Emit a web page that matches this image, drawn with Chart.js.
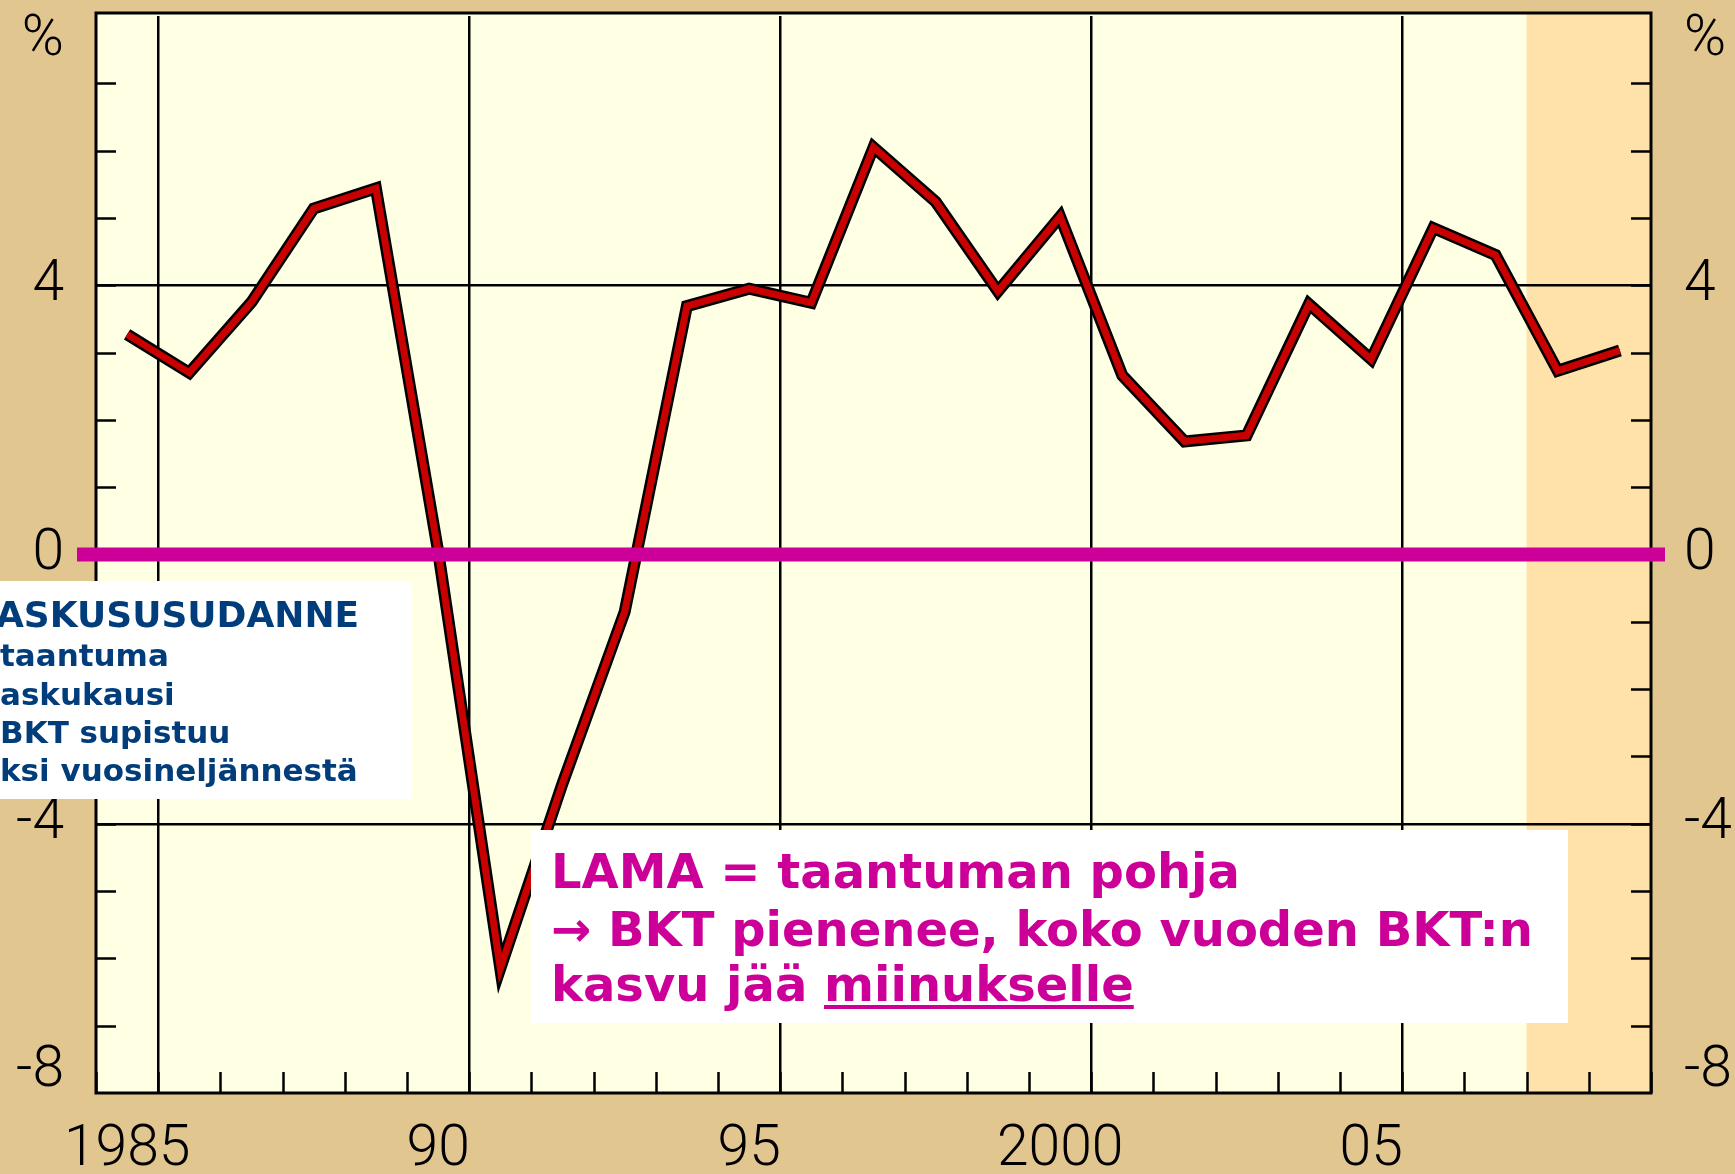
<!DOCTYPE html>
<html>
<head>
<meta charset="utf-8">
<title>BKT:n kasvu</title>
<script src="https://cdn.jsdelivr.net/npm/chart.js@4.4.1/dist/chart.umd.min.js"></script>
<style>
  html, body { margin: 0; padding: 0; background: #e2c690; overflow: hidden; }
  canvas { display: block; }
</style>
</head>
<body>
<canvas id="gdpChart" width="1735" height="1174"></canvas>
<script>
/* ==============================================
   Data - annual GDP growth, % (plotted mid-year)
   ============================================== */
const years = [1984, 1985, 1986, 1987, 1988, 1989, 1990, 1991, 1992, 1993, 1994, 1995,
               1996, 1997, 1998, 1999, 2000, 2001, 2002, 2003, 2004, 2005, 2006, 2007, 2008];
const gdpGrowth = [3.27, 2.70, 3.75, 5.14, 5.44, 0.05, -6.15, -3.40, -0.85, 3.69, 3.95, 3.74,
                   6.05, 5.24, 3.91, 5.02, 2.66, 1.68, 1.77, 3.72, 2.90, 4.85, 4.45, 2.73, 3.03];
const forecastStart = 2007;

const xTickYears = [1985, 1990, 1995, 2000, 2005];
const xTickLabels = ['1985', '90', '95', '2000', '05'];
const yTickValues = [4, 0, -4];
const yTickLabels = ['4', '0', '-4'];
const yEndValues = [8, -8];
const yEndLabels = ['%', '-8'];

const legendLines = ['ASKUSUSUDANNE', 'taantuma', 'askukausi', 'BKT supistuu', 'ksi vuosineljännestä'];
const noteLines = ['LAMA = taantuman pohja', '\u2192 BKT pienenee, koko vuoden BKT:n', 'kasvu jää '];
const noteUnderlined = 'miinukselle';

// colours
const PLOT_BG = '#ffffe4';
const FORECAST_BG = '#ffe2aa';
const LINE_RED = '#c80000';
const MAGENTA = '#cc0099';
const NAVY = '#003d7a';
const TICK_FONT = { family: 'Roboto, "Liberation Sans", sans-serif', size: 57, weight: 300 };
const FRAME_OVERHANG = 3; // frame top sits a little above the 8 % level

const points = years.map((yr, i) => ({ x: yr + 0.5, y: gdpGrowth[i] }));

/**
 * Background, inner tick marks, frame, zero line and text boxes
 */
const framePlugin = {
    id: 'framePlugin',
    beforeDraw(chart) {
        const { ctx, chartArea: a, scales: { x } } = chart;
        const top = a.top - FRAME_OVERHANG;
        ctx.save();
        ctx.fillStyle = PLOT_BG;
        ctx.fillRect(a.left, top, a.width, a.bottom - top);
        const xs = x.getPixelForValue(forecastStart);
        ctx.fillStyle = FORECAST_BG;
        ctx.fillRect(xs, top, a.right - xs, a.bottom - top);
        ctx.restore();
    },
    beforeDatasetsDraw(chart) {
        const { ctx, chartArea: a, scales: { x, y } } = chart;
        const top = a.top - FRAME_OVERHANG;
        ctx.save();
        ctx.strokeStyle = '#000';
        ctx.lineWidth = 2.5;
        ctx.beginPath();
        // short inward ticks on both value axes (not at the frame ends)
        y.ticks.filter(t => t.value > y.min && t.value < y.max).forEach(t => {
            const py = Math.round(y.getPixelForValue(t.value)) + 0.5;
            ctx.moveTo(a.left, py); ctx.lineTo(a.left + 20, py);
            ctx.moveTo(a.right, py); ctx.lineTo(a.right - 20, py);
        });
        // yearly ticks rising from the bottom
        x.ticks.forEach(t => {
            const px = Math.round(x.getPixelForValue(t.value)) + 0.5;
            ctx.moveTo(px, a.bottom); ctx.lineTo(px, a.bottom - 21);
        });
        ctx.stroke();
        ctx.lineWidth = 3;
        ctx.strokeRect(a.left, top, a.width, a.bottom - top);
        ctx.restore();
    },
    afterDatasetsDraw(chart) {
        const { ctx, chartArea: a, scales: { y } } = chart;
        const y0 = y.getPixelForValue(0);
        ctx.save();
        ctx.strokeStyle = MAGENTA;
        ctx.lineWidth = 14;
        ctx.beginPath();
        ctx.moveTo(a.left - 19, y0);
        ctx.lineTo(a.right + 14, y0);
        ctx.stroke();
        ctx.restore();
    },
    afterDraw(chart) {
        const { ctx, chartArea: a, scales: { y } } = chart;
        ctx.save();

        // '%' and '-8' sit a little inside the axis ends
        ctx.fillStyle = '#000';
        ctx.font = `${TICK_FONT.weight} ${TICK_FONT.size}px ${TICK_FONT.family}`;
        ctx.textBaseline = 'middle';
        yEndValues.forEach((v, i) => {
            const py = y.getPixelForValue(v) + (v > 0 ? 25 : -21);
            ctx.textAlign = 'right';
            ctx.fillText(yEndLabels[i], a.left - 32, py);
            ctx.textAlign = 'left';
            ctx.fillText(yEndLabels[i], a.right + 33, py);
        });

        // Left definition box (cut by the slide edge)
        ctx.fillStyle = '#ffffff';
        ctx.fillRect(0, 581, 412, 218);
        ctx.fillStyle = NAVY;
        ctx.textAlign = 'left';
        ctx.textBaseline = 'alphabetic';
        ctx.font = 'bold 36px "DejaVu Sans", sans-serif';
        ctx.fillText(legendLines[0], -4, 627);
        ctx.font = 'bold 31px "DejaVu Sans", sans-serif';
        [666, 705, 743, 781].forEach((by, i) => ctx.fillText(legendLines[i + 1], 0, by));

        // LAMA note
        ctx.fillStyle = '#ffffff';
        ctx.fillRect(531, 830, 1037, 193);
        ctx.fillStyle = MAGENTA;
        ctx.font = 'bold 48px "DejaVu Sans", sans-serif';
        ctx.fillText(noteLines[0], 551, 888);
        ctx.fillText(noteLines[1], 551, 946);
        ctx.fillText(noteLines[2], 551, 1001);
        const ux = 551 + ctx.measureText(noteLines[2]).width;
        ctx.fillText(noteUnderlined, ux, 1001);
        ctx.fillRect(ux, 1005, ctx.measureText(noteUnderlined).width, 4);

        ctx.restore();
    }
};

/**
 * Chart
 */
function initializeChart() {
    const ctx = document.getElementById('gdpChart').getContext('2d');
    const axisLabel = (values, labels) => function (value) {
        const i = values.indexOf(value);
        return i >= 0 ? labels[i] : '';
    };
    // fixed axis box sizes, no label overhang padding
    const fixWidth = w => function (scale) {
        scale.width = w;
        scale.paddingTop = 0;
        scale.paddingBottom = 0;
    };

    new Chart(ctx, {
        type: 'line',
        data: {
            datasets: [
                {
                    label: 'BKT:n kasvu',
                    data: points,
                    borderColor: LINE_RED,
                    borderWidth: 7,
                    borderJoinStyle: 'miter',
                    pointRadius: 0,
                    tension: 0,
                    yAxisID: 'y'
                },
                {
                    label: 'reuna',
                    data: points,
                    borderColor: '#000000',
                    borderWidth: 12,
                    borderJoinStyle: 'miter',
                    pointRadius: 0,
                    tension: 0,
                    yAxisID: 'y'
                }
            ]
        },
        options: {
            responsive: false,
            devicePixelRatio: 1,
            animation: false,
            layout: { autoPadding: false, padding: { top: 16, left: 0, right: 0, bottom: 0 } },
            plugins: {
                legend: { display: false },
                title: { display: false },
                tooltip: { enabled: false }
            },
            scales: {
                x: {
                    type: 'linear',
                    min: 1984,
                    max: 2009,
                    afterFit(scale) {
                        scale.height = 81;
                        scale.paddingLeft = 0;
                        scale.paddingRight = 0;
                    },
                    border: { display: false },
                    grid: {
                        drawTicks: false,
                        lineWidth: 2.5,
                        color: c => xTickYears.includes(c.tick.value) ? '#000' : 'rgba(0,0,0,0)'
                    },
                    ticks: {
                        stepSize: 1,
                        autoSkip: false,
                        maxRotation: 0,
                        padding: 24,
                        labelOffset: -31,
                        color: '#000',
                        font: TICK_FONT,
                        callback: axisLabel(xTickYears, xTickLabels)
                    }
                },
                y: {
                    position: 'left',
                    min: -8,
                    max: 8,
                    afterFit: fixWidth(96),
                    border: { display: false },
                    grid: {
                        drawTicks: false,
                        lineWidth: 2.5,
                        color: c => yTickValues.includes(c.tick.value) ? '#000' : 'rgba(0,0,0,0)'
                    },
                    ticks: {
                        stepSize: 1,
                        autoSkip: false,
                        padding: 32,
                        color: '#000',
                        font: TICK_FONT,
                        callback: axisLabel(yTickValues, yTickLabels)
                    }
                },
                y2: {
                    position: 'right',
                    min: -8,
                    max: 8,
                    afterFit: fixWidth(84),
                    border: { display: false },
                    grid: { display: false, drawTicks: false },
                    ticks: {
                        stepSize: 1,
                        autoSkip: false,
                        padding: 33,
                        color: '#000',
                        font: TICK_FONT,
                        callback: axisLabel(yTickValues, yTickLabels)
                    }
                }
            }
        },
        plugins: [framePlugin]
    });
}

document.addEventListener('DOMContentLoaded', initializeChart);
</script>
</body>
</html>
